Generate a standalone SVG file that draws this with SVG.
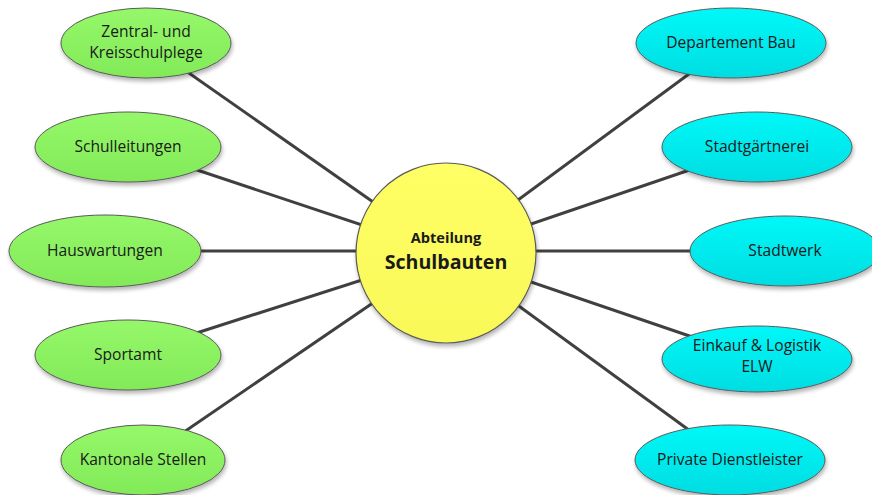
<svg xmlns="http://www.w3.org/2000/svg" width="872" height="495" viewBox="0 0 872 495">
<defs>
<linearGradient id="gG" x1="0" y1="0" x2="0" y2="1"><stop offset="0" stop-color="#95f86a"/><stop offset="1" stop-color="#82ea58"/></linearGradient>
<linearGradient id="gC" x1="0" y1="0" x2="0" y2="1"><stop offset="0" stop-color="#00f8f8"/><stop offset="1" stop-color="#00dde2"/></linearGradient>
<linearGradient id="gY" x1="0" y1="0" x2="0" y2="1"><stop offset="0" stop-color="#ffff66"/><stop offset="1" stop-color="#f8f858"/></linearGradient>
<filter id="sh" x="-20%" y="-20%" width="140%" height="150%"><feGaussianBlur in="SourceAlpha" stdDeviation="2"/><feOffset dx="1" dy="3" result="b"/><feComponentTransfer><feFuncA type="linear" slope="0.3"/></feComponentTransfer><feMerge><feMergeNode/><feMergeNode in="SourceGraphic"/></feMerge></filter>
</defs>
<style>
.ln{stroke:#404040;stroke-width:3;fill:none}
.g{fill:url(#gG);stroke:#5a5a5a;stroke-width:1;filter:url(#sh)}
.c{fill:url(#gC);stroke:#5a5a5a;stroke-width:1;filter:url(#sh)}
.y{fill:url(#gY);stroke:#5a5a5a;stroke-width:1.2;filter:url(#sh)}
text{font-family:"Open Sans","Liberation Sans",sans-serif;font-size:15.6px;fill:#1a1a1a;text-anchor:middle}
.b{font-weight:bold}
</style>
<g id="connectors">
<line class="ln" x1="146" y1="43" x2="446" y2="253"/>
<line class="ln" x1="128" y1="147" x2="446" y2="253"/>
<line class="ln" x1="105" y1="251" x2="446" y2="251"/>
<line class="ln" x1="128" y1="355" x2="446" y2="253"/>
<line class="ln" x1="143" y1="460" x2="446" y2="253"/>
<line class="ln" x1="731" y1="43" x2="446" y2="253"/>
<line class="ln" x1="757" y1="147" x2="446" y2="253"/>
<line class="ln" x1="785" y1="251" x2="446" y2="251"/>
<line class="ln" x1="757" y1="359" x2="446" y2="253"/>
<line class="ln" x1="730" y1="460" x2="446" y2="253"/>
</g>
<g id="center"><circle class="y" cx="446" cy="253" r="90"/><text class="b" x="446" y="243" style="font-size:14.6px">Abteilung</text><text class="b" x="446" y="269" style="font-size:19.6px">Schulbauten</text></g>
<g id="n1"><ellipse class="g" cx="146" cy="43" rx="85" ry="35"/><text x="146" y="37">Zentral- und</text><text x="146" y="58">Kreisschulplege</text></g>
<g id="n2"><ellipse class="g" cx="128" cy="147" rx="93" ry="35"/><text x="128" y="152">Schulleitungen</text></g>
<g id="n3"><ellipse class="g" cx="105" cy="251" rx="96" ry="36"/><text x="105" y="256">Hauswartungen</text></g>
<g id="n4"><ellipse class="g" cx="128" cy="355" rx="93" ry="35"/><text x="128" y="360">Sportamt</text></g>
<g id="n5"><ellipse class="g" cx="143" cy="460" rx="82" ry="35"/><text x="143" y="465">Kantonale Stellen</text></g>
<g id="n6"><ellipse class="c" cx="731" cy="43" rx="95" ry="35"/><text x="731" y="48">Departement Bau</text></g>
<g id="n7"><ellipse class="c" cx="757" cy="147" rx="95" ry="35"/><text x="757" y="152">Stadtgärtnerei</text></g>
<g id="n8"><ellipse class="c" cx="785" cy="251" rx="95" ry="35"/><text x="785" y="256">Stadtwerk</text></g>
<g id="n9"><ellipse class="c" cx="757" cy="359" rx="95" ry="33"/><text x="757" y="351">Einkauf &amp; Logistik</text><text x="757" y="372">ELW</text></g>
<g id="n10"><ellipse class="c" cx="730" cy="460" rx="95" ry="35"/><text x="730" y="465">Private Dienstleister</text></g>
</svg>
